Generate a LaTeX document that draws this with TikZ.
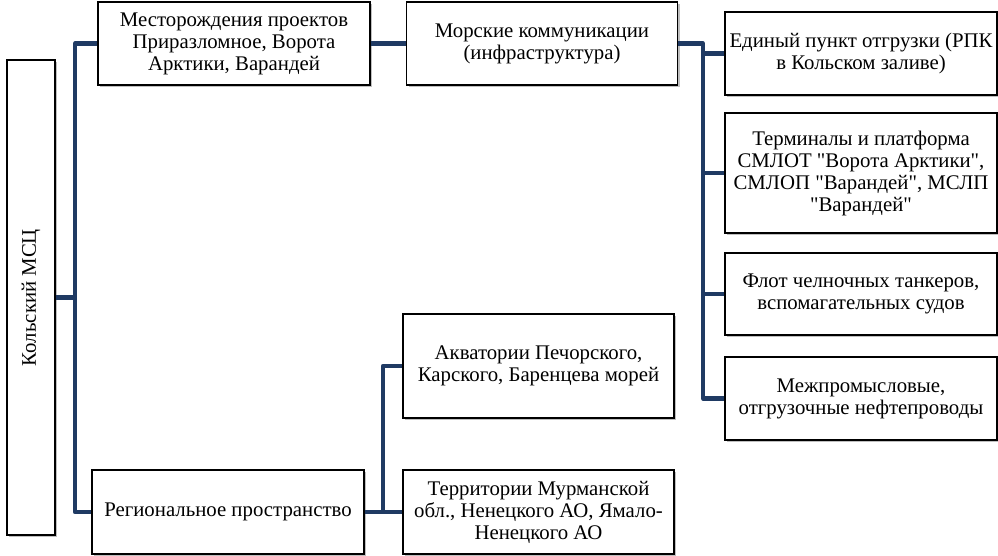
\documentclass[tikz,border=0pt]{standalone}
\usepackage{fontspec}
\setmainfont{Liberation Serif}[Ligatures=TeXOff]
\usetikzlibrary{shadows}
\definecolor{navy}{RGB}{31,58,99}
\begin{document}
\begin{tikzpicture}[x=1pt,y=-1pt,
  txt/.style={font=\fontsize{20.8}{22}\selectfont},
  box/.style={txt,draw=black,line width=1.1pt,fill=white,align=center,inner sep=2pt,
    drop shadow={shadow xshift=2pt,shadow yshift=-2pt,fill=black,opacity=0.25}},
  conn/.style={draw=navy,line width=4.2pt,line join=round}]
\useasboundingbox (0,0) rectangle (998,555);
\node[box,minimum width=48pt,minimum height=475pt] (k) at (31,297.5) {};
\node[txt,rotate=90] (kt) at (31,297.5) {Кольский МСЦ};
\node[box,minimum width=272pt,minimum height=83pt] (m1) at (234,43.5) {Месторождения проектов\\Приразломное, Ворота\\Арктики, Варандей};
\node[box,minimum width=271pt,minimum height=83pt] (mk) at (542,43.5) {Морские коммуникации\\(инфраструктура)};
\node[box,minimum width=272pt,minimum height=83pt] (e1) at (861,53.5) {Единый пункт отгрузки (РПК\\в Кольском заливе)};
\node[box,minimum width=272pt,minimum height=120pt] (e2) at (861,173) {Терминалы и платформа\\СМЛОТ "Ворота Арктики",\\СМЛОП "Варандей", МСЛП\\"Варандей"};
\node[box,minimum width=272pt,minimum height=82pt] (e3) at (861,294) {Флот челночных танкеров,\\вспомагательных судов};
\node[box,minimum width=272pt,minimum height=83pt] (e4) at (861,398.5) {Межпромысловые,\\отгрузочные нефтепроводы};
\node[box,minimum width=272pt,minimum height=84pt] (reg) at (228,512) {Региональное пространство};
\node[box,minimum width=271pt,minimum height=104pt] (ak) at (538.5,366) {Акватории Печорского,\\Карского, Баренцева морей};
\node[box,minimum width=271pt,minimum height=84pt] (tr) at (538.5,512) {Территории Мурманской\\обл., Ненецкого АО, Ямало-\\Ненецкого АО};
\coordinate (t1) at (75,0);
\coordinate (t2) at (703,0);
\coordinate (t3) at (383,0);
\draw[conn] (k.east) -- (k.east -| t1);
\draw[conn] (m1.west) -- (m1.west -| t1) -- (reg.west -| t1) -- (reg.west);
\draw[conn] (m1.east) -- (mk.west);
\draw[conn] (mk.east) -- (mk.east -| t2) -- (e4.west -| t2) -- (e4.west);
\draw[conn] (e1.west -| t2) -- (e1.west);
\draw[conn] (e2.west -| t2) -- (e2.west);
\draw[conn] (e3.west -| t2) -- (e3.west);
\draw[conn] (reg.east) -- (tr.west);
\draw[conn] (ak.west) -- (ak.west -| t3) -- (tr.west -| t3);
\end{tikzpicture}
\end{document}
